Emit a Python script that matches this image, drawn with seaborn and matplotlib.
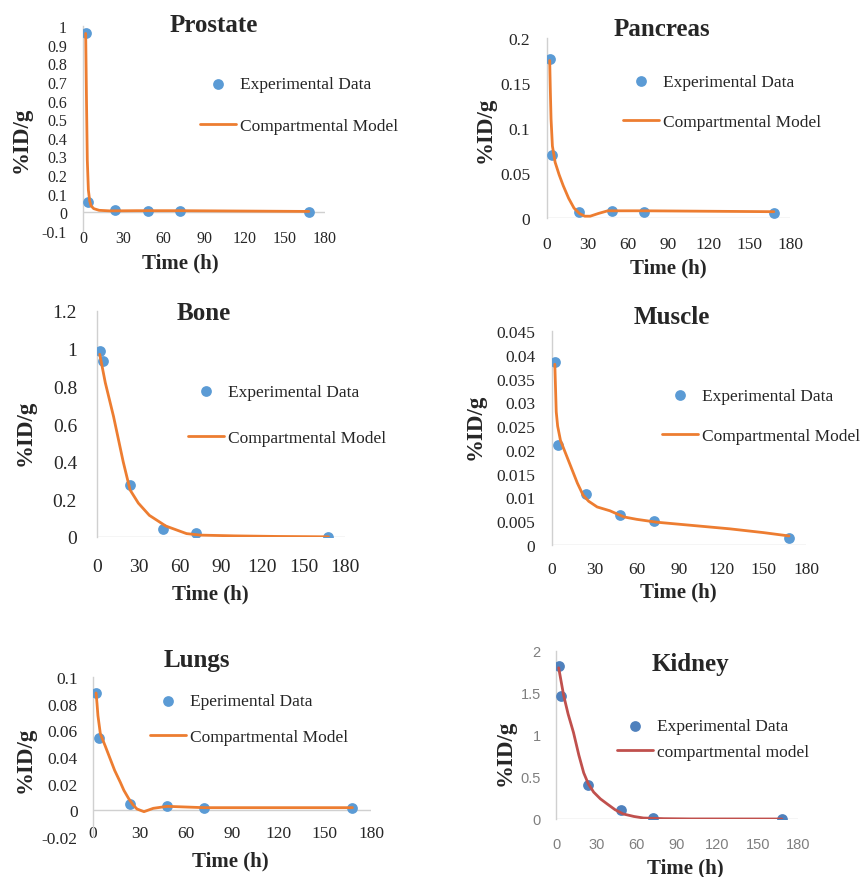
import matplotlib
matplotlib.use("Agg")
import matplotlib.pyplot as plt
import seaborn as sns

# ---------------- data ----------------
time = [2, 4, 24, 48, 72, 168]

prostate_exp = [0.96, 0.055, 0.012, 0.008, 0.007, 0.002]
prostate_mt = [2, 2.6, 3.2, 4, 5, 6, 8, 12, 20, 40, 72, 120, 168]
prostate_mv = [0.96, 0.60, 0.28, 0.12, 0.06, 0.035, 0.02, 0.011, 0.008, 0.009, 0.009, 0.007, 0.005]

pancreas_exp = [0.177, 0.070, 0.0067, 0.008, 0.0067, 0.0055]
pancreas_mt = [2, 2.5, 3, 4, 6, 9, 12, 16, 20, 24, 28, 32, 38, 45, 72, 120, 168]
pancreas_mv = [0.175, 0.14, 0.11, 0.08, 0.062, 0.048, 0.036, 0.022, 0.011, 0.005, 0.002, 0.002, 0.005, 0.008, 0.008, 0.0075, 0.007]

bone_exp = [0.988, 0.935, 0.274, 0.044, 0.021, 0.0]
bone_mt = [2, 6, 12, 19, 24, 30, 38, 50, 65, 75, 100, 130, 168]
bone_mv = [0.97, 0.82, 0.64, 0.40, 0.25, 0.18, 0.115, 0.058, 0.018, 0.01, 0.006, 0.003, 0.001]

muscle_exp = [0.0384, 0.021, 0.0107, 0.0064, 0.0051, 0.0014]
muscle_mt = [2, 2.5, 3, 4, 6, 10, 14, 18, 22, 26, 32, 41, 51, 60, 74, 100, 126, 150, 168]
muscle_mv = [0.038, 0.033, 0.028, 0.025, 0.022, 0.019, 0.016, 0.013, 0.0105, 0.0092, 0.008, 0.0072,
             0.0059, 0.0054, 0.0048, 0.0041, 0.0034, 0.0026, 0.0019]

lungs_exp = [0.088, 0.0545, 0.0045, 0.003, 0.002, 0.002]
lungs_mt = [2, 2.6, 3.2, 4.75, 8, 11, 14, 17.7, 20, 23, 26, 28.5, 33, 39, 48, 72, 120, 168]
lungs_mv = [0.088, 0.080, 0.071, 0.0575, 0.048, 0.039, 0.030, 0.021, 0.015, 0.009, 0.004, 0.001,
            -0.001, 0.0015, 0.003, 0.002, 0.002, 0.002]

kidney_exp = [1.82, 1.465, 0.40, 0.107, 0.008, 0.0]
kidney_mt = [2, 5.7, 9, 13, 17, 20.6, 24, 28, 33, 38, 44, 50, 58, 65, 80, 100, 168]
kidney_mv = [1.80, 1.47, 1.25, 1.03, 0.76, 0.55, 0.42, 0.32, 0.24, 0.18, 0.11, 0.06, 0.03, 0.012, 0.004, 0.001, 0.0]

titles = ["Prostate", "Pancreas", "Bone", "Muscle", "Lungs", "Kidney"]
x_ticks = [0, 30, 60, 90, 120, 150, 180]
y_ticks = {
    "Prostate": [-0.1, 0, 0.1, 0.2, 0.3, 0.4, 0.5, 0.6, 0.7, 0.8, 0.9, 1],
    "Pancreas": [0, 0.05, 0.1, 0.15, 0.2],
    "Bone": [0, 0.2, 0.4, 0.6, 0.8, 1, 1.2],
    "Muscle": [0, 0.005, 0.01, 0.015, 0.02, 0.025, 0.03, 0.035, 0.04, 0.045],
    "Lungs": [-0.02, 0, 0.02, 0.04, 0.06, 0.08, 0.1],
    "Kidney": [0, 0.5, 1, 1.5, 2],
}
exp_labels = {"Lungs": "Eperimental Data"}
model_labels = {"Kidney": "compartmental model"}

# ---------------- style ----------------
sns.set_style("white")
plt.rcParams["font.family"] = ["Liberation Serif", "DejaVu Serif"]
plt.rcParams["axes.unicode_minus"] = False

W, H = 863, 878
fig = plt.figure(figsize=(W / 100, H / 100), dpi=100)

def fx(p):
    return p / W

def fy(p):
    return 1 - p / H

ORANGE = "#ED7D31"
BLUE = "#5B9BD5"
GRID = "#D0D0D0"

panels = {
    "Prostate": dict(box=(83, 325, 27, 232), ylim=(-0.1, 1.0), xpad=-1, ypad=11.5, fs=11.5,
                     title=(214, 25), ylab=(21, 140), xlab=(180, 263), leg=(200, 106, 1.48),
                     data=(prostate_exp, prostate_mt, prostate_mv)),
    "Pancreas": dict(box=(547, 790, 39, 219), ylim=(0, 0.2), xpad=12.7, ypad=12, fs=12.5,
                     title=(662, 30), ylab=(485, 130), xlab=(668, 268), leg=(623, 103, 1.38),
                     data=(pancreas_exp, pancreas_mt, pancreas_mv)),
    "Bone": dict(box=(97, 345, 312, 538), ylim=(0, 1.2), xpad=14.8, ypad=14.4, fs=14,
                 title=(204, 314), ylab=(25, 433), xlab=(210, 594), leg=(188, 416, 1.74),
                 data=(bone_exp, bone_mt, bone_mv)),
    "Muscle": dict(box=(552, 806, 332, 546), ylim=(0, 0.045), xpad=11.3, ypad=12, fs=12.5,
                   title=(672, 317), ylab=(475, 427), xlab=(678, 592), leg=(662, 417, 1.38),
                   data=(muscle_exp, muscle_mt, muscle_mv)),
    "Lungs": dict(box=(93, 371, 678, 838), ylim=(-0.02, 0.1), xpad=-8.3, ypad=11, fs=12.5,
                  title=(197, 660), ylab=(25, 760), xlab=(230, 861), leg=(150, 720, 1.14),
                  data=(lungs_exp, lungs_mt, lungs_mv)),
    "Kidney": dict(box=(556, 798, 652, 820), ylim=(0, 2), xpad=13, ypad=11, fs=10.5,
                   title=(690, 665), ylab=(505, 753), xlab=(685, 868), leg=(617, 740, 0.54),
                   data=(kidney_exp, kidney_mt, kidney_mv)),
}

for name in titles:
    p = panels[name]
    l, r, t, b = p["box"]
    ax = fig.add_axes([fx(l), fy(b), (r - l) / W, (b - t) / H])
    exp, mt, mv = p["data"]
    mcol = "#4F81BD" if name == "Kidney" else BLUE
    lcol = "#C0504D" if name == "Kidney" else ORANGE
    sns.scatterplot(x=time, y=exp, ax=ax, color=mcol, s=60, edgecolor=mcol, linewidth=0,
                    label=exp_labels.get(name, "Experimental Data"), zorder=3)
    sns.lineplot(x=mt, y=mv, ax=ax, color=lcol, linewidth=2.0,
                 label=model_labels.get(name, "Compartmental Model"), zorder=4)
    ax.set_xlim(0, 180)
    ax.set_ylim(*p["ylim"])
    ax.set_xticks(x_ticks)
    ax.set_xticklabels([f"{v:g}" for v in x_ticks])
    yt = y_ticks[name]
    ax.set_yticks(yt)
    ax.set_yticklabels([f"{v:g}" for v in yt])
    for s in ["top", "right", "bottom"]:
        ax.spines[s].set_visible(False)
    ax.spines["left"].set_color(GRID)
    ax.spines["left"].set_linewidth(1)
    ax.axhline(0, color=GRID, lw=1, zorder=1)
    ax.tick_params(axis="x", length=0, pad=p["xpad"], labelsize=p["fs"])
    ax.tick_params(axis="y", length=0, pad=p["ypad"], labelsize=p["fs"])
    if name == "Kidney":
        for lab in ax.get_xticklabels() + ax.get_yticklabels():
            lab.set_family(["Liberation Sans", "DejaVu Sans"])
            lab.set_color("#7F7F7F")
    ax.set_xlabel("")
    ax.set_ylabel("")
    ax.patch.set_alpha(0)

    hl, mid, sp = p["leg"]
    h, lbls = ax.get_legend_handles_labels()
    order = sorted(range(len(lbls)), key=lambda i: 0 if "Data" in lbls[i] else 1)
    ax.legend([h[i] for i in order], [lbls[i] for i in order], loc="center left",
              bbox_to_anchor=(fx(hl), fy(mid)), bbox_transform=fig.transFigure,
              frameon=False, borderpad=0, borderaxespad=0, handlelength=2.1, handletextpad=0.2,
              labelspacing=sp, fontsize=12.5, markerscale=1.0)

    fig.text(fx(p["title"][0]), fy(p["title"][1]), name, ha="center", va="center",
             fontsize=18, fontweight="bold")
    fig.text(fx(p["ylab"][0]), fy(p["ylab"][1]), "%ID/g", ha="center", va="center",
             rotation=90, fontsize=16.5, fontweight="bold")
    fig.text(fx(p["xlab"][0]), fy(p["xlab"][1]), "Time (h)", ha="center", va="center",
             fontsize=15, fontweight="bold")

fig.savefig("out.png", dpi=100, facecolor="white")
